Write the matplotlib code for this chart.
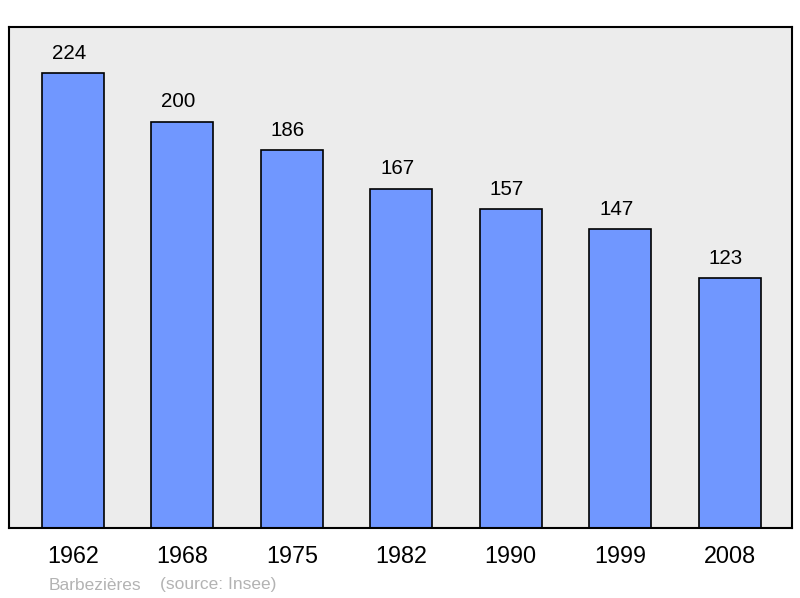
import matplotlib.pyplot as plt

plt.rcParams['font.family'] = ['Liberation Sans', 'DejaVu Sans']

annees = ['1962', '1968', '1975', '1982', '1990', '1999', '2008']
population = [224, 200, 186, 167, 157, 147, 123]

fig = plt.figure(figsize=(8, 5.98), dpi=100)
ax = fig.add_axes([9 / 800, 70 / 598, 783 / 800, 501 / 598])
ax.set_facecolor('#ececec')

x = range(len(annees))
ax.bar(x, population, width=0.567, color='#7097ff', edgecolor='black', linewidth=1.2)

# valeurs au-dessus des barres
for xi, v in zip(x, population):
    ax.annotate(str(v), (xi, v), xytext=(-2.8, 10.5), textcoords='offset points',
                ha='center', va='baseline', fontsize=14.8)

ax.set_xlim(-0.585, 6.57)
ax.set_ylim(0, 246.7)
ax.set_yticks([])
ax.set_xticks(list(x))
ax.set_xticklabels(annees, fontsize=16.8)
ax.tick_params(axis='x', length=0, pad=12.5)
for s in ax.spines.values():
    s.set_linewidth(1.5)

fig.text(49 / 800, 1 - 585 / 598, 'Barbezières', color='#b3b3b3', fontsize=12.5, va='center')
fig.text(160 / 800, 1 - 585 / 598, '(source: Insee)', color='#b3b3b3', fontsize=12.5, va='center')

fig.savefig('out.png', dpi=100)
